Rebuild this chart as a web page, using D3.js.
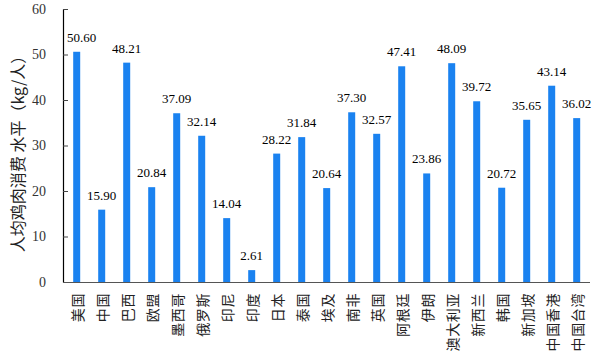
<!DOCTYPE html>
<html><head><meta charset="utf-8">
<script src="https://cdn.jsdelivr.net/npm/d3@7"></script>
<style>body{margin:0;background:#fff}
.serif{font-family:"Times New Roman","Liberation Serif",serif}
.cjk{font-family:"Noto Sans CJK SC",sans-serif}
</style>
</head><body>
<svg id="c" width="600" height="359"></svg>
<script>
const categories = ["美国","中国","巴西","欧盟","墨西哥","俄罗斯","印尼","印度","日本","泰国","埃及","南非","英国","阿根廷","伊朗","澳大利亚","新西兰","韩国","新加坡","中国香港","中国台湾"];
const values = [50.60,15.90,48.21,20.84,37.09,32.14,14.04,2.61,28.22,31.84,20.64,37.30,32.57,47.41,23.86,48.09,39.72,20.72,35.65,43.14,36.02];
const yTicks = [0,10,20,30,40,50,60];
const yTitle = "人均鸡肉消费 水平（kg/人）";

const svg = d3.select("#c");
const mLeft = 63, mRight = 590, mTop = 9, mBottom = 282;
const x = d3.scaleBand().domain(categories).range([64.2, 589.2]).paddingInner(0.72).paddingOuter(0.36);
const y = d3.scaleLinear().domain([0,60]).range([mBottom, mTop]);

// bars
svg.selectAll("rect.bar").data(values).join("rect")
  .attr("class","bar")
  .attr("x",(d,i)=>x(categories[i]))
  .attr("width",x.bandwidth())
  .attr("y",d=>y(d))
  .attr("height",d=>mBottom-y(d))
  .attr("fill","#1a82f0");

// value labels
svg.selectAll("text.val").data(values).join("text")
  .attr("class","val serif")
  .attr("x",(d,i)=>x(categories[i])+x.bandwidth()/2)
  .attr("dx",(d,i)=>i===0?5:0)
  .attr("y",d=>y(d)-10)
  .attr("text-anchor","middle")
  .style("font-size","13px")
  .attr("fill","#000")
  .text(d=>d.toFixed(2));

// y axis
const yAxis = d3.axisLeft(y).tickValues(yTicks).tickSizeInner(-5).tickSizeOuter(0).tickPadding(17);
const gy = svg.append("g").attr("transform",`translate(${mLeft},0)`).call(yAxis);
gy.attr("font-family",null).attr("font-size",null);
gy.select(".domain").attr("stroke","#000").attr("stroke-width",1.2);
gy.selectAll(".tick line").attr("stroke","#444");
gy.selectAll(".tick text").attr("class","serif").style("font-size","14px").attr("fill","#333");

// x axis line
const xAxis = d3.axisBottom(x).tickSize(0).tickFormat("");
const gx = svg.append("g").attr("transform",`translate(0,${mBottom})`).call(xAxis);
gx.attr("font-family",null).attr("font-size",null);
gx.select(".domain").attr("stroke","#555").attr("stroke-width",1.2).attr("d",`M${mLeft},0.5H${mRight}`);

// category labels: rotated -90, reading bottom-to-top, anchored at top
categories.forEach((c,i)=>{
  const cx = x(c)+x.bandwidth()/2;
  svg.append("text")
    .attr("class","cjk")
    .attr("transform",`translate(${cx},${mBottom+11}) rotate(-90)`)
    .attr("text-anchor","end")
    .attr("dominant-baseline","central")
    .style("font-size","14px")
    .style("letter-spacing","0.6px")
    .attr("fill","#222")
    .text(c);
});

// y title
svg.append("text")
  .attr("class","cjk")
  .attr("transform",`translate(17,150) rotate(-90)`)
  .attr("text-anchor","middle")
  .attr("dominant-baseline","central")
  .style("font-size","16px")
  .attr("fill","#222")
  .text(yTitle);
</script>
</body></html>
